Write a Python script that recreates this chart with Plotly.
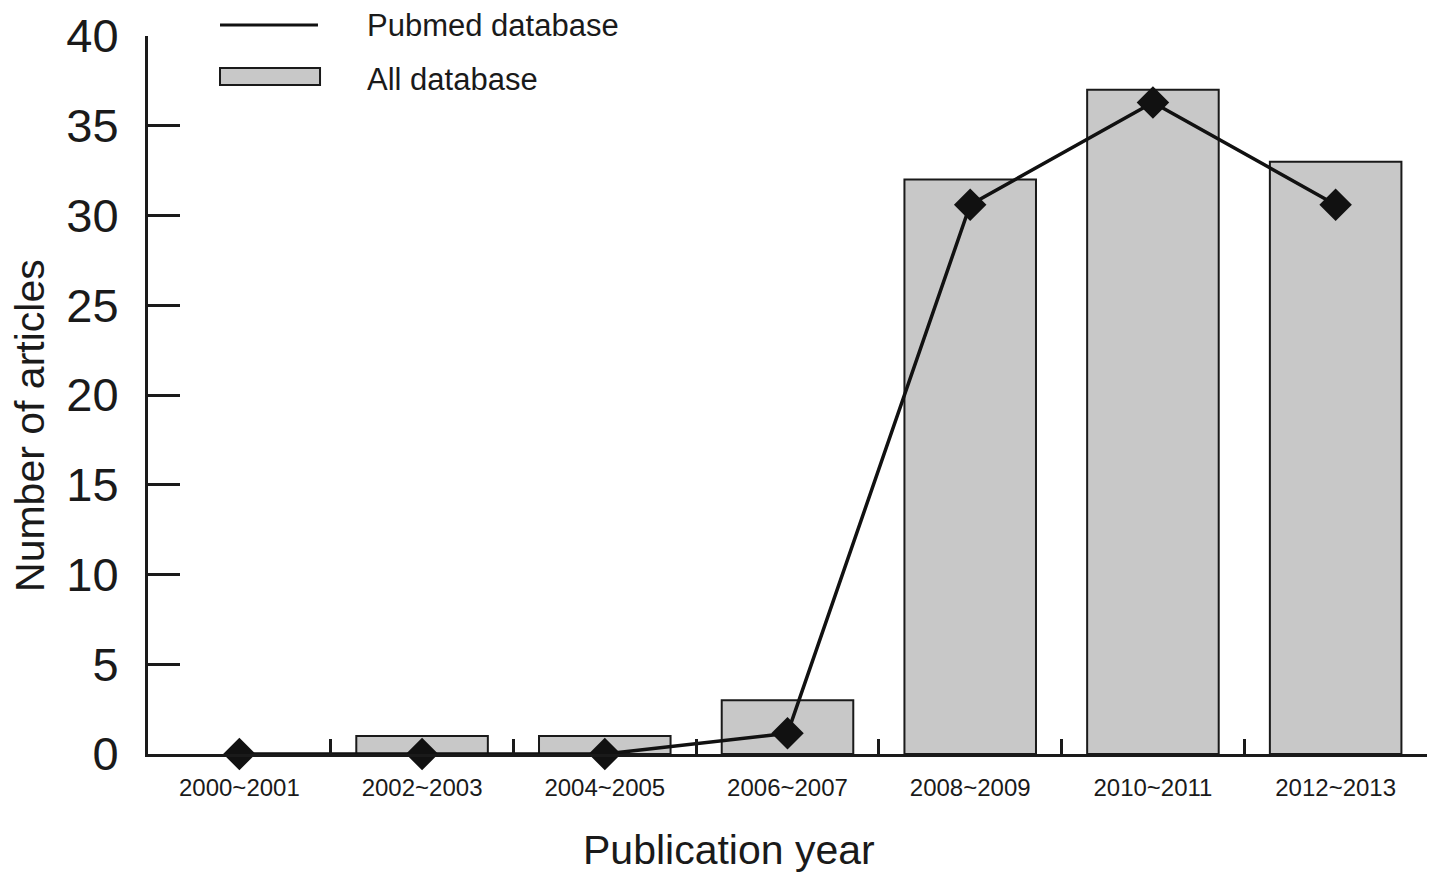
import plotly.graph_objects as go

categories = ["2000~2001", "2002~2003", "2004~2005", "2006~2007", "2008~2009", "2010~2011", "2012~2013"]
all_database = [0, 1, 1, 3, 32, 37, 33]
pubmed_database = [0, 0, 0, 1.15, 30.6, 36.3, 30.6]
y_ticks = [0, 5, 10, 15, 20, 25, 30, 35, 40]

FONT = "Liberation Sans, Arial, sans-serif"
INK = "#1a1a1a"

fig = go.Figure()
fig.add_trace(go.Bar(
    x=categories, y=all_database, name="All database",
    width=0.72,
    marker=dict(color="#c8c8c8",
                line=dict(color=INK, width=[2 if v > 0 else 0 for v in all_database])),
    showlegend=False,
))
fig.add_trace(go.Scatter(
    x=categories, y=pubmed_database, name="Pubmed database",
    mode="lines+markers", line=dict(color="#111111", width=3.5),
    marker=dict(symbol="diamond", size=25, color="#111111"),
    showlegend=False, cliponaxis=False,
))

# manual legend (large samples like the original)
fig.add_shape(type="line", xref="paper", yref="paper", x0=0.0563, x1=0.1329, y0=1.0153, y1=1.0153,
              line=dict(color="#111111", width=3))
fig.add_shape(type="rect", xref="paper", yref="paper", x0=0.0563, x1=0.1345, y0=0.9318, y1=0.9554,
              fillcolor="#c8c8c8", line=dict(color=INK, width=2))
fig.add_annotation(xref="paper", yref="paper", x=0.1697, y=1.0153, text="Pubmed database",
                   showarrow=False, xanchor="left", yanchor="middle", font=dict(size=31, color=INK, family=FONT))
fig.add_annotation(xref="paper", yref="paper", x=0.1697, y=0.9401, text="All database",
                   showarrow=False, xanchor="left", yanchor="middle", font=dict(size=31, color=INK, family=FONT))

# axis titles (placed as in the original, slightly off-centre)
fig.add_annotation(xref="paper", yref="paper", x=0.4543, y=-0.1337, text="Publication year",
                   showarrow=False, xanchor="center", yanchor="middle", font=dict(size=41, color=INK, family=FONT))
fig.add_annotation(xref="paper", yref="paper", x=-0.0923, y=0.4582, text="Number of articles", textangle=-90,
                   showarrow=False, xanchor="center", yanchor="middle", font=dict(size=41, color=INK, family=FONT))

fig.update_layout(
    width=1433, height=868,
    margin=dict(l=140, r=14, t=28, b=122, autoexpand=False),
    paper_bgcolor="white", plot_bgcolor="white",
    font=dict(family=FONT, color=INK),
    bargap=0.28,
)
fig.update_xaxes(
    type="category", range=[-0.5, 6.5], tickson="boundaries", automargin=False,
    ticks="inside", ticklen=15, tickwidth=3, tickcolor=INK,
    showline=True, linecolor=INK, linewidth=3, showgrid=False, zeroline=False,
    tickfont=dict(size=24, color=INK, family=FONT), ticklabelstandoff=10,
)
fig.update_yaxes(
    range=[0, 40], tickvals=y_ticks, ticktext=[str(v) for v in y_ticks], automargin=False,
    ticklabeloverflow="allow",
    ticks="inside", ticklen=32, tickwidth=3, tickcolor=INK,
    showline=True, linecolor=INK, linewidth=3, showgrid=False, zeroline=False,
    tickfont=dict(size=47, color=INK, family=FONT), ticklabelstandoff=17,
)

fig.write_html("out.html")
